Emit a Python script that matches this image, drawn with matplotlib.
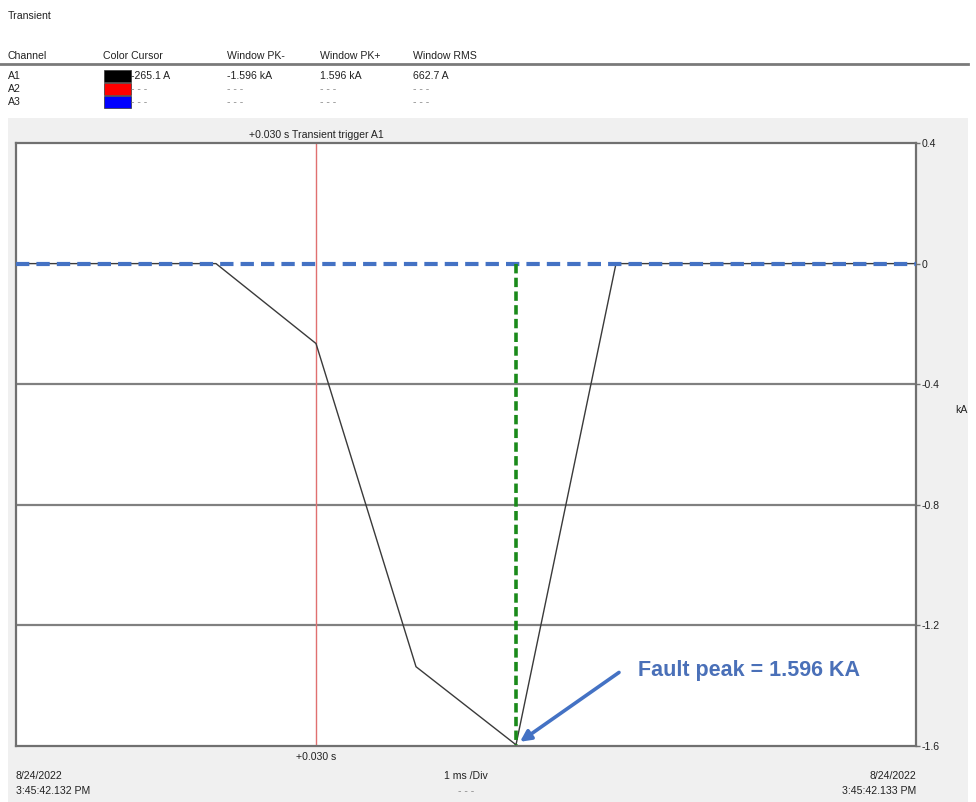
import matplotlib
matplotlib.use('Agg')
import matplotlib.pyplot as plt
from matplotlib.patches import Rectangle
from matplotlib.lines import Line2D

# ---- A1 transient samples (µs from window start, kA) ----
sample_us  = [0, 100, 200, 300, 400, 500, 600, 700, 800, 900]
current_ka = [0.0, 0.0, 0.0, -0.2651, -1.337, -1.596, 0.0, 0.0, 0.0, 0.0]

cursor_us = 300
peak_us   = 500
peak_ka   = -1.596

y_ticks  = [0.4, 0, -0.4, -0.8, -1.2, -1.6]
y_labels = ['0.4', '0', '-0.4', '-0.8', '-1.2', '-1.6']

headers   = ['Channel', 'Color Cursor', 'Window PK-', 'Window PK+', 'Window RMS']
channels  = ['A1', 'A2', 'A3']
swatches  = ['#000000', '#ff0000', '#0000ff']
cursor_v  = ['-265.1 A', '- - -', '- - -']
pk_minus  = ['-1.596 kA', '- - -', '- - -']
pk_plus   = ['1.596 kA', '- - -', '- - -']
rms       = ['662.7 A', '- - -', '- - -']

W, H = 976, 802
fig = plt.figure(figsize=(W / 100, H / 100), dpi=100)
fig.patch.set_facecolor('white')
plt.rcParams['font.family'] = ['Liberation Sans', 'DejaVu Sans']


def fx(x):
    return x / W


def fy(y):
    return 1 - y / H


def ftext(x, y, s, **kw):
    kw.setdefault('fontsize', 7.6)
    kw.setdefault('color', '#222222')
    kw.setdefault('va', 'center')
    fig.text(fx(x), fy(y), s, **kw)


# gray panel behind the scope view
fig.add_artist(Rectangle((fx(8), 0), fx(968) - fx(8), fy(118),
                         transform=fig.transFigure, facecolor='#f0f0f0',
                         edgecolor='none', zorder=0))

# ---- header table ----
ftext(8, 16, 'Transient')
col_x = [8, 103, 227, 320, 413]
for x, h in zip(col_x, headers):
    ftext(x, 56, h)
fig.add_artist(Line2D([0, fx(968)], [fy(64), fy(64)], transform=fig.transFigure,
                      color='#7a7a7a', lw=2))
for i, ch in enumerate(channels):
    y = 76 + i * 13
    ftext(8, y, ch)
    fig.add_artist(Rectangle((fx(104), fy(y + 6)), fx(131) - fx(104), fy(y - 6) - fy(y + 6),
                             transform=fig.transFigure, facecolor=swatches[i],
                             edgecolor='#333333', lw=0.5))
    grey = '#222222' if i == 0 else '#888888'
    ftext(131, y, cursor_v[i], color=grey)
    ftext(227, y, pk_minus[i], color=grey)
    ftext(320, y, pk_plus[i], color=grey)
    ftext(413, y, rms[i], color=grey)

# ---- scope axes ----
left, right, top, bottom = 16, 916, 143, 746
ax = fig.add_axes([fx(left), fy(bottom), fx(right) - fx(left), fy(top) - fy(bottom)])
ax.set_facecolor('white')
ax.set_xlim(sample_us[0], sample_us[-1])
ax.set_ylim(-1.6, 0.4)

for g in [-0.4, -0.8, -1.2]:
    ax.axhline(g, color='#808080', lw=1.6, zorder=1)

ax.axvline(cursor_us, color='#e07070', lw=1.0, zorder=2)
ax.plot(sample_us, current_ka, color='#3a3a3a', lw=1.0, zorder=3)
ax.axhline(0, color='#4472c4', lw=3, dashes=(3.2, 1.7), zorder=4)
ax.plot([peak_us, peak_us], [0, peak_ka], color='#1a8a1a', lw=2.6,
        dashes=(2.6, 1.2), zorder=4)

ax.annotate('', xy=(peak_us + 4, peak_ka + 0.01), xytext=(peak_us + 103, peak_ka + 0.24),
            arrowprops=dict(arrowstyle='-|>', color='#4472c4', lw=2.6,
                            mutation_scale=16, shrinkA=0, shrinkB=0), zorder=5)
ax.text(peak_us + 122, -1.35, 'Fault peak = 1.596 KA', color='#4a70b8',
        fontsize=15.5, fontweight='bold', va='center', ha='left',
        family=['Liberation Sans Narrow', 'Liberation Sans', 'DejaVu Sans'], zorder=6)

ax.yaxis.tick_right()
ax.set_yticks(y_ticks)
ax.set_yticklabels(y_labels)
ax.tick_params(axis='y', direction='out', length=3, width=1, color='#707070',
               labelsize=7.6, labelcolor='#222222', pad=1)
ax.set_xticks([])
for s in ax.spines.values():
    s.set_color('#707070')
    s.set_linewidth(1.6)

# ---- labels around the scope ----
ftext(316, 135, '+0.030 s Transient trigger A1', ha='center')
ftext(961, 410, 'kA', ha='center')
ftext(316, 757, '+0.030 s', ha='center')
ftext(16, 776, '8/24/2022')
ftext(16, 791, '3:45:42.132 PM')
ftext(466, 776, '1 ms /Div', ha='center')
ftext(466, 791, '- - -', ha='center', color='#888888')
ftext(916, 776, '8/24/2022', ha='right')
ftext(916, 791, '3:45:42.133 PM', ha='right')

fig.savefig('out.png', dpi=100)
